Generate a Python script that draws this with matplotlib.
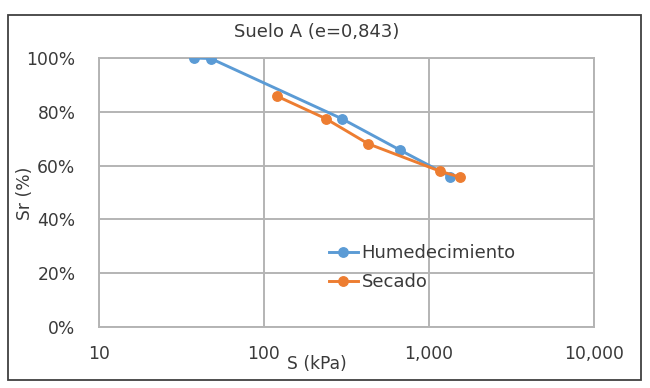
import matplotlib
matplotlib.use("Agg")
import matplotlib.pyplot as plt
from matplotlib.patches import Rectangle
from matplotlib.ticker import FixedLocator, FuncFormatter, NullLocator

# Data
hum_s = [37.4, 47.6, 297, 671, 1349]
hum_sr = [100.0, 99.8, 77.4, 65.7, 55.9]
sec_s = [120, 236, 428, 1169, 1542]
sec_sr = [85.8, 77.5, 68.1, 57.9, 55.7]
x_ticks = [10, 100, 1000, 10000]
y_ticks = [0, 20, 40, 60, 80, 100]
title = "Suelo A (e=0,843)"
xlabel = "S (kPa)"
ylabel = "Sr (%)"
series_names = ["Humedecimiento", "Secado"]

BLUE = "#5B9BD5"
ORANGE = "#ED7D31"
GRID = "#B4B4B4"
TXT = "#3A3A3A"
FONT = "DejaVu Sans"
FS = 12.3

plt.rcParams["font.family"] = [FONT]

fig = plt.figure(figsize=(6.5, 3.88), dpi=100)
fig.patch.set_facecolor("white")

# outer border
fig.add_artist(Rectangle((8 / 650, 1 - 380 / 388), (641 - 8) / 650, (380 - 15) / 388,
                         transform=fig.transFigure, fill=False, edgecolor="#404040",
                         linewidth=1.3))

ax = fig.add_axes([99 / 650, 1 - 327 / 388, 495 / 650, 269 / 388])
ax.set_xscale("log")
ax.set_xlim(10, 10000)
ax.set_ylim(0, 100)

ax.xaxis.set_major_locator(FixedLocator(x_ticks))
ax.xaxis.set_minor_locator(NullLocator())
ax.xaxis.set_major_formatter(FuncFormatter(lambda v, p: f"{int(round(v)):,}"))
ax.yaxis.set_major_locator(FixedLocator(y_ticks))
ax.yaxis.set_major_formatter(FuncFormatter(lambda v, p: f"{int(round(v))}%"))

ax.grid(True, which="major", color=GRID, linewidth=1.4)
ax.set_axisbelow(True)
for sp in ax.spines.values():
    sp.set_color(GRID)
    sp.set_linewidth(1.4)
ax.tick_params(axis="both", length=0, labelsize=FS, colors=TXT)
ax.tick_params(axis="y", pad=17)
ax.tick_params(axis="x", pad=13)

ax.plot(hum_s, hum_sr, color=BLUE, marker="o", markersize=6.8, linewidth=2.1,
        label=series_names[0], zorder=3)
ax.plot(sec_s, sec_sr, color=ORANGE, marker="o", markersize=6.8, linewidth=2.1,
        label=series_names[1], zorder=3)

fig.text(317 / 650, 1 - 32 / 388, title, ha="center", va="center", fontsize=FS + 0.7,
         color=TXT)
fig.text(317 / 650, 1 - 364 / 388, xlabel, ha="center", va="center", fontsize=FS,
         color=TXT)
fig.text(25 / 650, 1 - 193 / 388, ylabel, ha="center", va="center", fontsize=FS,
         color=TXT, rotation=90)

leg = ax.legend(loc="upper left", bbox_to_anchor=((320 - 99) / 495, (327 - 235) / 269),
                frameon=False, fontsize=FS + 0.7, handlelength=1.6, handletextpad=0.2,
                labelspacing=0.6, borderpad=0)
for t in leg.get_texts():
    t.set_color(TXT)

fig.savefig("out.png", dpi=100, facecolor="white")
